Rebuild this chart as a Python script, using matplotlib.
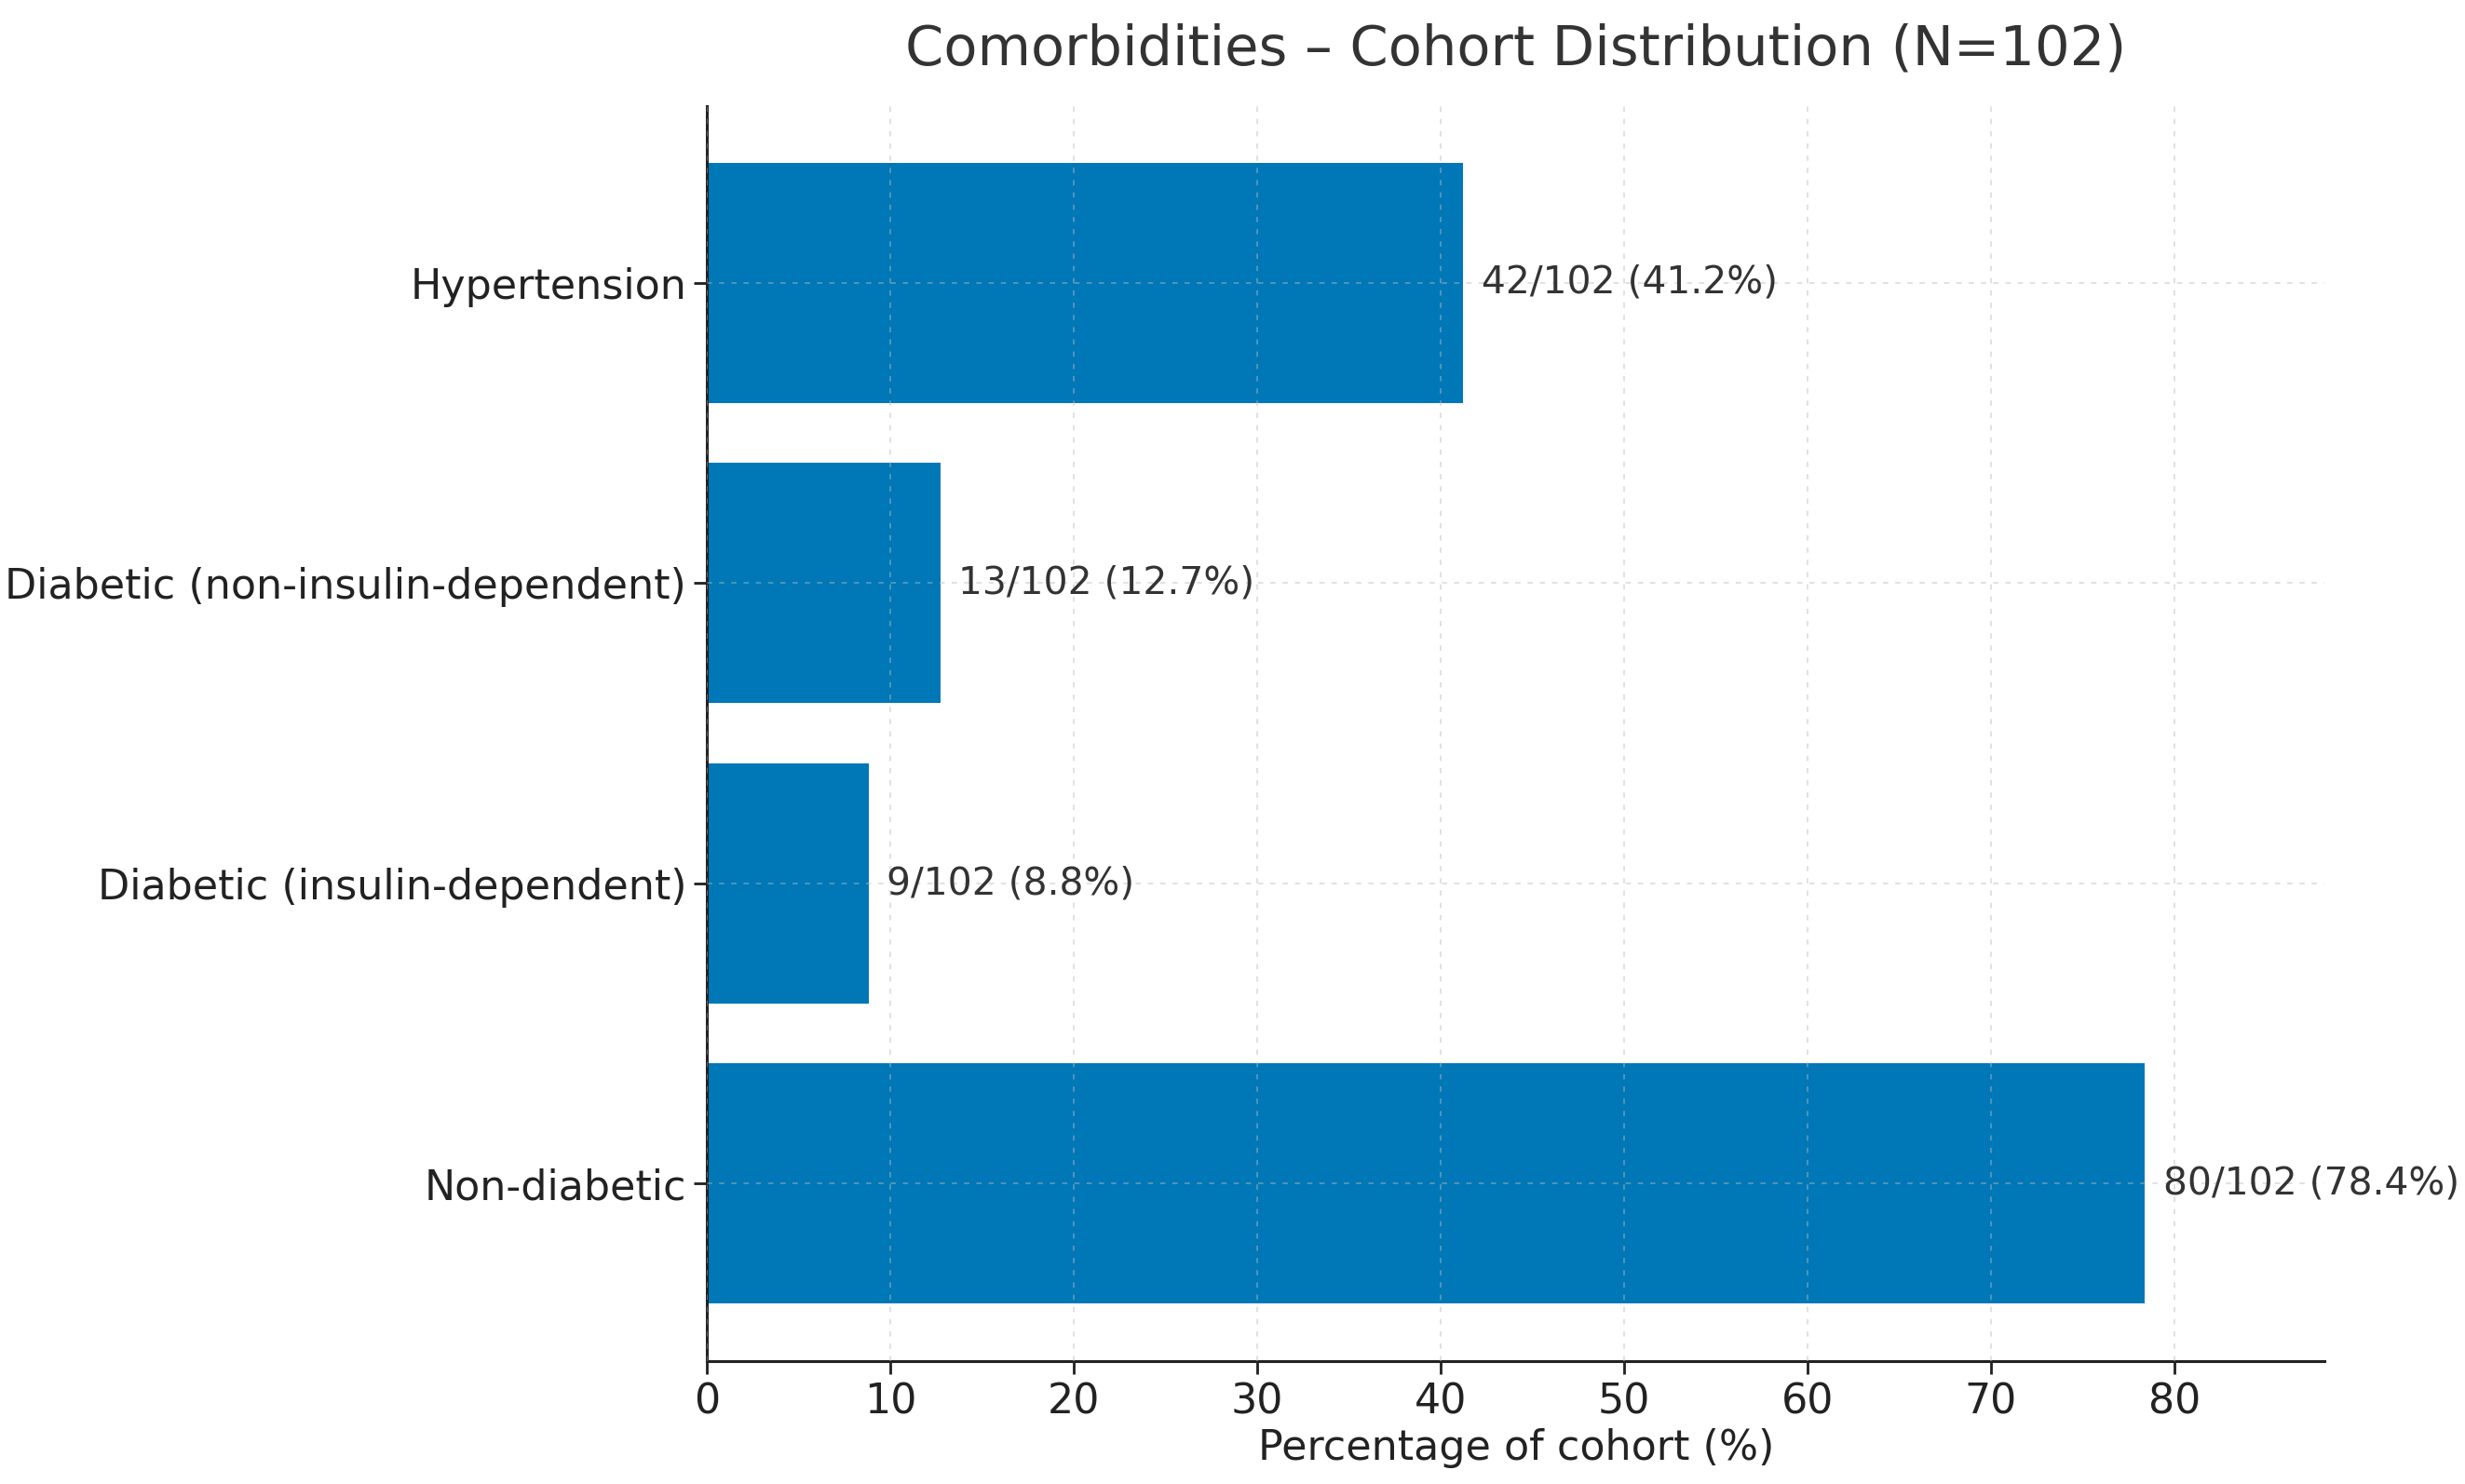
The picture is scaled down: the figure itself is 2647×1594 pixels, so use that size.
import matplotlib.pyplot as plt

# ── Data ────────────────────────────────────────────────────────────────────
categories = ["Non-diabetic", "Diabetic (insulin-dependent)",
              "Diabetic (non-insulin-dependent)", "Hypertension"]
counts = [80, 9, 13, 42]
N = 102
percents = [round(c / N * 100, 1) for c in counts]

BAR_COLOR = "#0077b6"

fig = plt.figure(figsize=(15.65, 9.425), dpi=169.14)
ax = fig.add_axes([0.2869, 0.0830, 0.6562, 0.8457])

ax.barh(categories, percents, height=0.8, color=BAR_COLOR)
for i, (c, p) in enumerate(zip(counts, percents)):
    ax.text(p + 1.0, i, f"{c}/{N} ({p:.1f}%)", va="center", ha="left",
            fontsize=17.4, color="#333333")

ax.set_xlim(0, max(percents) * 1.125)
ax.set_xticks(range(0, 90, 10))
ax.tick_params(axis="both", labelsize=18.9, colors="#222222", length=6, width=1.2)
ax.set_xlabel("Percentage of cohort (%)", fontsize=18.9, color="#222222", labelpad=3)
ax.set_title(f"Comorbidities \u2013 Cohort Distribution (N={N})",
             fontsize=25.2, color="#333333", pad=19)

ax.set_axisbelow(False)
ax.grid(True, linestyle=(0, (3, 4)), linewidth=0.8, color="#bbbbbb", alpha=0.45)

for s in ["top", "right"]:
    ax.spines[s].set_visible(False)
for s in ["left", "bottom"]:
    ax.spines[s].set_linewidth(1.3)
    ax.spines[s].set_color("#222222")

fig.savefig("out.png", dpi=169.14)
